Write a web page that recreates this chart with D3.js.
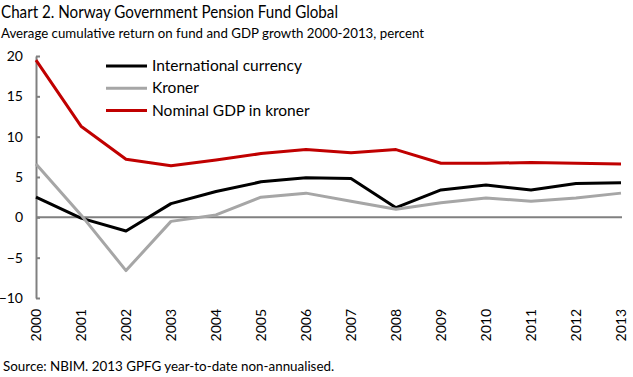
<!DOCTYPE html>
<html>
<head>
<meta charset="utf-8">
<script src="https://cdn.jsdelivr.net/npm/d3@7"></script>
<style>
  body { margin: 0; background: #fff; }
  svg text { font-family: "Lato", "DejaVu Sans", sans-serif; fill: #000; }
</style>
</head>
<body>
<div id="chart"></div>
<script>
const years = ["2000","2001","2002","2003","2004","2005","2006","2007","2008","2009","2010","2011","2012","2013"];
const international = [2.5, -0.1, -1.7, 1.7, 3.2, 4.4, 4.9, 4.8, 1.2, 3.4, 4.0, 3.4, 4.2, 4.3];
const kroner = [6.6, 0.3, -6.6, -0.5, 0.3, 2.5, 3.0, 2.0, 1.0, 1.8, 2.4, 2.0, 2.4, 3.0];
const nominalGdp = [19.5, 11.3, 7.2, 6.4, 7.1, 7.9, 8.4, 8.0, 8.4, 6.7, 6.7, 6.8, 6.7, 6.6];
const yTicks = [-10, -5, 0, 5, 10, 15, 20];

const series = [
    {name: "International currency", values: international, color: "#000000"},
    {name: "Kroner", values: kroner, color: "#a6a6a6"},
    {name: "Nominal GDP in kroner", values: nominalGdp, color: "#c00000"}
];

var width = 633, height = 377;

var svg = d3.select("#chart").append("svg")
    .attr("width", width)
    .attr("height", height);

var x = d3.scalePoint()
    .domain(years)
    .range([36, 621]);

var y = d3.scaleLinear()
    .domain([-10, 20])
    .range([298, 56]);

// titles
svg.append("text").attr("x", 1).attr("y", 18)
    .style("font-size", "17px")
    .attr("textLength", 337).attr("lengthAdjust", "spacingAndGlyphs")
    .text("Chart 2. Norway Government Pension Fund Global");
svg.append("text").attr("x", 1).attr("y", 38)
    .style("font-size", "14px")
    .attr("textLength", 423).attr("lengthAdjust", "spacingAndGlyphs")
    .text("Average cumulative return on fund and GDP growth 2000-2013, percent");

// y axis
var yAxis = svg.append("g")
    .attr("transform", "translate(" + x(years[0]) + ",0)")
    .call(d3.axisLeft(y).tickValues(yTicks).tickSizeInner(-4).tickSizeOuter(0).tickPadding(13));
yAxis.select(".domain").attr("stroke", "#808080").attr("stroke-width", 2);
yAxis.selectAll(".tick line").attr("stroke", "#808080").attr("stroke-width", 2);
yAxis.selectAll(".tick text").style("font-size", "14px").attr("fill", "#000");

// zero line
svg.append("line")
    .attr("x1", x(years[0])).attr("x2", x(years[years.length - 1]) + 1)
    .attr("y1", y(0)).attr("y2", y(0))
    .attr("stroke", "#808080").attr("stroke-width", 2);

// x labels, rotated
svg.selectAll(".xlab")
    .data(years)
    .enter().append("text")
    .attr("class", "xlab")
    .attr("transform", function (d) {
        return "translate(" + (x(d) + 5) + ",309) rotate(-90)";
    })
    .attr("text-anchor", "end")
    .style("font-size", "14px")
    .text(d => d);

var line = d3.line()
    .x((d, i) => x(years[i]))
    .y(d => y(d));

series.forEach(function (s) {
    svg.append("path")
        .datum(s.values)
        .attr("fill", "none")
        .attr("stroke", s.color)
        .attr("stroke-width", 3)
        .attr("stroke-linejoin", "round")
        .attr("d", line);
});

// legend
var legend = svg.append("g").attr("class", "legend");
series.forEach(function (s, i) {
    var ly = 66 + i * 22.3;
    legend.append("line")
        .attr("x1", 106).attr("x2", 147)
        .attr("y1", ly).attr("y2", ly)
        .attr("stroke", s.color).attr("stroke-width", 3);
    legend.append("text")
        .attr("x", 152).attr("y", ly + 5)
        .style("font-size", "15.5px")
        .text(s.name);
});

svg.append("text").attr("x", 3).attr("y", 371)
    .style("font-size", "13.4px")
    .text("Source: NBIM. 2013 GPFG year-to-date non-annualised.");
</script>
</body>
</html>
